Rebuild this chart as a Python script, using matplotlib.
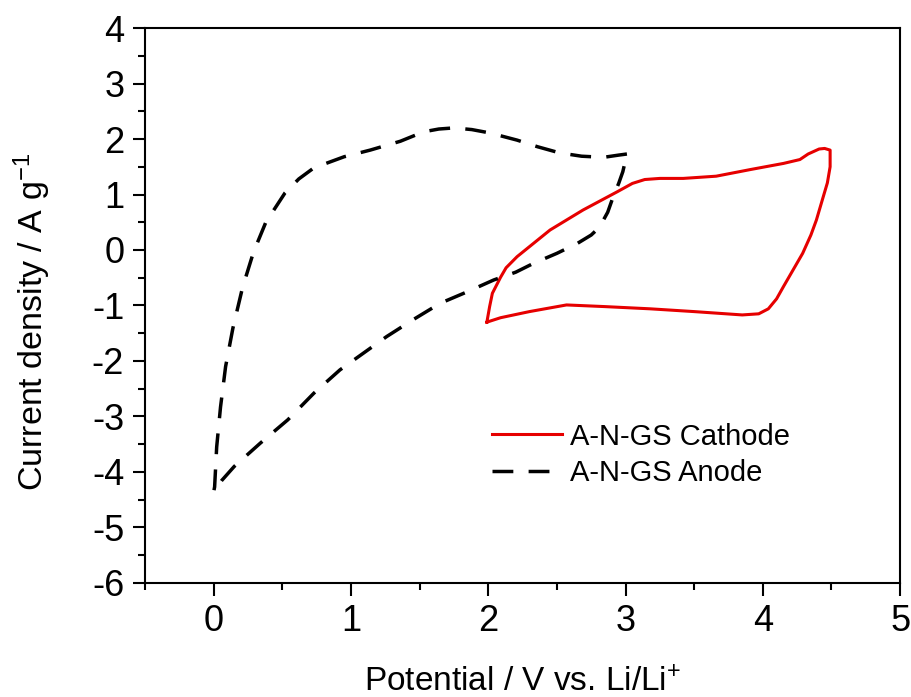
import matplotlib
matplotlib.use('Agg')
import matplotlib.pyplot as plt

plt.rcParams['font.family'] = ['Liberation Sans', 'DejaVu Sans']
plt.rcParams['mathtext.default'] = 'regular'
plt.rcParams['axes.unicode_minus'] = False

# A-N-GS cathode CV loop (potential V, current density A/g)
cathode_x = [1.99, 2.09, 2.30, 2.57, 2.85, 3.18, 3.50, 3.85, 3.97, 4.04, 4.10, 4.15, 4.22,
             4.29, 4.35, 4.39, 4.44, 4.47, 4.49, 4.49, 4.45, 4.41, 4.33, 4.27, 4.15, 3.91,
             3.66, 3.42, 3.25, 3.14, 3.05, 2.94, 2.69, 2.45, 2.30, 2.21, 2.13, 2.09, 2.03, 2.01, 1.99]
cathode_y = [-1.30, -1.22, -1.11, -0.99, -1.02, -1.06, -1.11, -1.17, -1.15, -1.06, -0.88, -0.66, -0.36,
             -0.06, 0.27, 0.54, 0.96, 1.21, 1.50, 1.80, 1.83, 1.82, 1.73, 1.63, 1.56, 1.45,
             1.33, 1.29, 1.29, 1.27, 1.20, 1.05, 0.72, 0.36, 0.06, -0.12, -0.32, -0.49, -0.78, -1.02, -1.30]

# A-N-GS anode CV loop
anode_x = [3.01, 2.95, 2.84, 2.68, 2.52, 2.36, 2.21, 2.01, 1.88, 1.75, 1.64, 1.53, 1.36,
           1.14, 0.95, 0.73, 0.62, 0.52, 0.38, 0.29, 0.21, 0.14, 0.087, 0.05, 0.022, 0.007,
           0.0, 0.06, 0.15, 0.34, 0.54, 0.73, 0.92, 1.09, 1.26, 1.45, 1.65, 1.85, 2.04,
           2.20, 2.33, 2.50, 2.65, 2.75, 2.81, 2.87, 2.91, 2.95, 2.98, 3.01]
anode_y = [1.73, 1.71, 1.67, 1.69, 1.75, 1.86, 1.98, 2.11, 2.17, 2.20, 2.18, 2.13, 1.96,
           1.80, 1.68, 1.48, 1.28, 1.03, 0.50, -0.04, -0.68, -1.41, -2.10, -2.83, -3.55, -4.27,
           -4.36, -4.15, -3.90, -3.48, -3.06, -2.58, -2.16, -1.86, -1.56, -1.26, -0.96, -0.75, -0.54,
           -0.40, -0.24, -0.06, 0.12, 0.27, 0.41, 0.68, 0.96, 1.20, 1.41, 1.73]

fig = plt.figure(figsize=(9.12, 6.97), dpi=100)
ax = fig.add_axes([0.159, 0.1636, 0.828, 0.7962])

ax.plot(cathode_x, cathode_y, color='#e60000', lw=2.2, label='A-N-GS Cathode')
ax.plot(anode_x, anode_y, color='black', lw=2.5, linestyle=(0, (6, 4.4)),
        label='A-N-GS Anode')

ax.set_xlim(-0.5, 5)
ax.set_ylim(-6, 4)
ax.set_xticks([0, 1, 2, 3, 4, 5])
ax.set_yticks(range(-6, 5))
ax.set_xticks([-0.5, 0.5, 1.5, 2.5, 3.5, 4.5], minor=True)
ax.set_yticks([-5.5 + i for i in range(10)], minor=True)
ax.tick_params(which='major', direction='out', length=9, width=1.5, labelsize=26, pad=6)
ax.tick_params(which='minor', direction='out', length=5, width=1.5)
ax.tick_params(top=False, right=False)
for s in ax.spines.values():
    s.set_linewidth(1.5)

ax.set_xlabel('Potential / V vs. Li/Li$^{+}$', fontsize=24, labelpad=20)
ax.set_ylabel('Current density / A g$^{-1}$', fontsize=24.5)
ax.yaxis.set_label_coords(-0.122, 0.47)

ax.legend(loc='upper left', bbox_to_anchor=(0.46, 0.289), frameon=False, fontsize=21,
          handlelength=2.4, handletextpad=0.25, borderpad=0, borderaxespad=0,
          labelspacing=0.3)

fig.savefig('out.png', dpi=100)
